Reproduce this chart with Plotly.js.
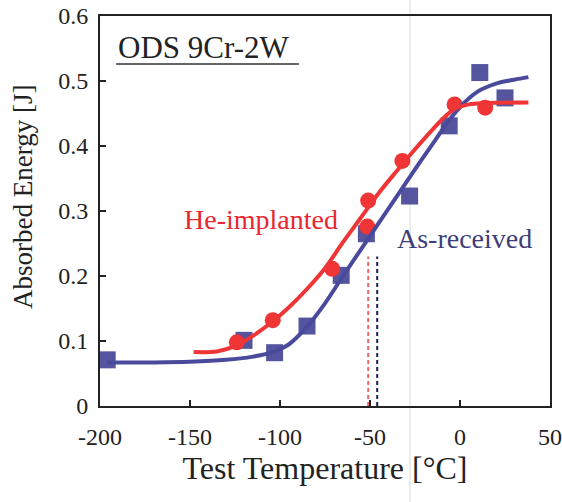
<!DOCTYPE html>
<html>
<head>
<meta charset="utf-8">
<script src="https://cdn.plot.ly/plotly-3.0.1.min.js"></script>
<style>html,body{margin:0;padding:0;background:#fff;}#chart{width:562px;height:502px;}</style>
</head>
<body>
<div id="chart"></div>
<script>
// As-received (blue squares)
const asRecT = [-196, -120, -103, -85, -66, -52, -28, -6, 11, 25];
const asRecE = [0.071, 0.101, 0.082, 0.123, 0.201, 0.265, 0.323, 0.431, 0.513, 0.474];
// He-implanted (red circles)
const heT = [-124, -104, -71, -51, -51.5, -32, -3, 14];
const heE = [0.098, 0.132, 0.211, 0.316, 0.276, 0.377, 0.464, 0.459];
// Fitted curves
const asRecFitT = [-196, -170, -150, -130, -115, -105, -95, -85, -75, -65, -55, -45, -35, -25, -15, -8, 0, 10, 20, 30, 38];
const asRecFitE = [0.067, 0.067, 0.068, 0.071, 0.076, 0.082, 0.095, 0.122, 0.158, 0.200, 0.241, 0.282, 0.323, 0.364, 0.404, 0.432, 0.460, 0.484, 0.496, 0.502, 0.506];
const heFitT = [-148, -135, -125, -115, -105, -95, -85, -75, -65, -55, -45, -35, -25, -15, -8, -3, 5, 15, 38];
const heFitE = [0.083, 0.084, 0.092, 0.108, 0.128, 0.152, 0.180, 0.212, 0.252, 0.290, 0.328, 0.362, 0.395, 0.426, 0.446, 0.457, 0.464, 0.466, 0.467];
// DBTT markers (dashed)
const dbttT = [-51, -46];
const dbttTop = [0.23, 0.23];

const xTicks = [-200, -150, -100, -50, 0, 50];
const yTicks = [0, 0.1, 0.2, 0.3, 0.4, 0.5, 0.6];
const yTickText = ['0', '0.1', '0.2', '0.3', '0.4', '0.5', '0.6'];

const RED = '#ef3535';
const BLUE = '#55559f';
const SERIF = 'Liberation Serif, Times New Roman, serif';

const traces = [
  {x: [dbttT[0], dbttT[0]], y: [0, dbttTop[0]], mode: 'lines', line: {color: '#e46a6a', width: 2, dash: '4px,3px'}, hoverinfo: 'skip'},
  {x: [dbttT[1], dbttT[1]], y: [0, dbttTop[1]], mode: 'lines', line: {color: '#1e1e55', width: 2, dash: '4px,3px'}, hoverinfo: 'skip'},
  {x: asRecT, y: asRecE, mode: 'markers', marker: {symbol: 'square', size: 17, color: BLUE}},
  {x: heT, y: heE, mode: 'markers', marker: {symbol: 'circle', size: 16, color: RED}},
  {x: asRecFitT, y: asRecFitE, mode: 'lines', line: {color: '#4a4a9c', width: 4, shape: 'spline'}},
  {x: heFitT, y: heFitE, mode: 'lines', line: {color: RED, width: 4, shape: 'spline'}}
];

const layout = {
  width: 562, height: 502,
  margin: {l: 100, r: 12, t: 16, b: 96},
  paper_bgcolor: '#ffffff', plot_bgcolor: '#ffffff',
  showlegend: false,
  font: {family: SERIF, color: '#222222'},
  xaxis: {
    range: [-200, 50], tickvals: xTicks, ticktext: xTicks.map(String),
    ticks: 'inside', ticklen: 6, tickwidth: 1.5, tickcolor: '#222',
    showline: true, linecolor: '#222', linewidth: 2, mirror: true,
    showgrid: false, zeroline: false, ticklabelstandoff: 8,
    tickfont: {family: SERIF, size: 24, color: '#222'},
    title: {text: 'Test Temperature [°C]', font: {family: SERIF, size: 32, color: '#222'}, standoff: 8}
  },
  yaxis: {
    range: [0, 0.6], tickvals: yTicks, ticktext: yTickText,
    ticks: 'inside', ticklen: 6, tickwidth: 1.5, tickcolor: '#222',
    showline: true, linecolor: '#222', linewidth: 2, mirror: true,
    showgrid: false, zeroline: false, ticklabelstandoff: 5,
    tickfont: {family: SERIF, size: 24, color: '#222'}
  },
  annotations: [
    {xref: 'paper', yref: 'paper', x: -0.171, y: 0.536, xanchor: 'center', yanchor: 'middle', textangle: -90, showarrow: false,
     text: 'Absorbed Energy [J]', font: {family: SERIF, size: 27, color: '#222'}},
    {xref: 'paper', yref: 'paper', x: 0.035, y: 0.918, xanchor: 'left', yanchor: 'middle', showarrow: false,
     text: 'ODS 9Cr-2W', font: {family: SERIF, size: 31, color: '#222'}},
    {xref: 'paper', yref: 'paper', x: 0.358, y: 0.477, xanchor: 'center', yanchor: 'middle', showarrow: false,
     text: 'He-implanted', font: {family: SERIF, size: 28, color: '#e8282e'}},
    {xref: 'paper', yref: 'paper', x: 0.809, y: 0.43, xanchor: 'center', yanchor: 'middle', showarrow: false,
     text: 'As-received', font: {family: SERIF, size: 28, color: '#3d3d7c'}}
  ],
  shapes: [
    {type: 'line', xref: 'paper', yref: 'paper', x0: 0.036, x1: 0.442, y0: 0.877, y1: 0.877, line: {color: '#333', width: 1.5}},
    {type: 'line', xref: 'paper', yref: 'paper', x0: 0.689, x1: 0.689, y0: -0.246, y1: 1.041, line: {color: '#dcdcdc', width: 1}, layer: 'below'}
  ]
};

Plotly.newPlot('chart', traces, layout, {displayModeBar: false, staticPlot: true});
</script>
</body>
</html>
